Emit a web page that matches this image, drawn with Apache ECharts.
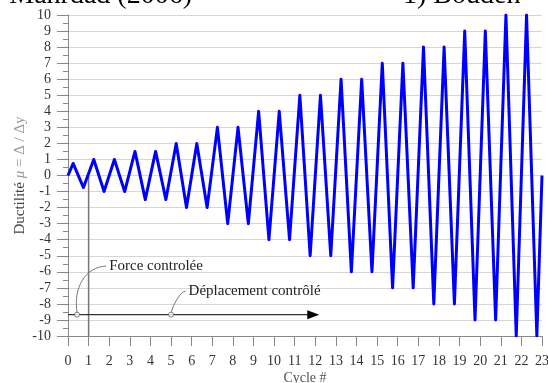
<!DOCTYPE html>
<html><head><meta charset="utf-8">
<script src="https://cdn.jsdelivr.net/npm/echarts@6/dist/echarts.min.js"></script>
<style>html,body{margin:0;padding:0;background:#fff;}#c{width:548px;height:383px;}</style>
</head><body><div id="c"></div>
<script>
// Cycle positions of each turning point
var cycleX = [0, 0.25, 0.75, 1.25, 1.75, 2.25, 2.75, 3.25, 3.75, 4.25, 4.75, 5.25, 5.75, 6.25, 6.75,
  7.25, 7.75, 8.25, 8.75, 9.25, 9.75, 10.25, 10.75, 11.25, 11.75, 12.25, 12.75, 13.25, 13.75,
  14.25, 14.75, 15.25, 15.75, 16.25, 16.75, 17.25, 17.75, 18.25, 18.75, 19.25, 19.75, 20.25, 20.75,
  21.25, 21.75, 22.25, 22.75, 23];
// Ductility at each turning point
var ductility = [0, 0.75, -0.75, 1, -1, 1, -1, 1.5, -1.5, 1.5, -1.5, 2, -2, 2, -2,
  3, -3, 3, -3, 4, -4, 4, -4, 5, -5, 5, -5, 6, -6,
  6, -6, 7, -7, 7, -7, 8, -8, 8, -8, 9, -9, 9, -9,
  10, -10, 10, -10, 0];
var xTicks = [0,1,2,3,4,5,6,7,8,9,10,11,12,13,14,15,16,17,18,19,20,21,22,23];
var yTicks = [-10,-9,-8,-7,-6,-5,-4,-3,-2,-1,0,1,2,3,4,5,6,7,8,9,10];
// Annotation values
var forceLimitX = 1;          // end of force-controlled phase
var phaseArrowY = -8.67;
var phaseArrowEnd = 11.9;
var forceLabel = 'Force controlée';
var forceCircle = [0.44, -8.67];
var forceTextPos = [2.0, -5.64];
var dispLabel = 'Déplacement contrôlé';
var dispCircle = [5.0, -8.67];
var dispTextPos = [5.85, -7.2];

var serif = '"Liberation Serif", "DejaVu Serif", serif';
var chart = echarts.init(document.getElementById('c'));
var pts = cycleX.map(function (x, i) { return [x, ductility[i]]; });

chart.setOption({
  animation: false,
  grid: { left: 68, right: 6, top: 15, bottom: 47, containLabel: false, outerBoundsMode: 'none' },
  xAxis: {
    type: 'value', min: 0, max: 23, interval: 1,
    name: 'Cycle #', nameLocation: 'middle', nameGap: 35, nameMoveOverlap: false,
    nameTextStyle: { fontFamily: serif, fontSize: 14, color: '#555' },
    axisLine: { onZero: false, lineStyle: { color: '#888', width: 1 } },
    axisTick: { length: 10, lineStyle: { color: '#888' } },
    axisLabel: { fontFamily: serif, fontSize: 14, color: '#333', margin: 18,
      formatter: function (v) { return xTicks.indexOf(v) >= 0 ? String(v) : ''; } },
    splitLine: { show: false }
  },
  yAxis: {
    type: 'value', min: -10, max: 10, interval: 1,
    name: '{a|Ductilité }{b|μ}{c| = Δ / Δy}', nameLocation: 'middle', nameGap: 40,
    nameMoveOverlap: false,
    nameTextStyle: { fontFamily: serif, fontSize: 15,
      rich: {
        a: { fontFamily: serif, fontSize: 15, color: '#444' },
        b: { fontFamily: serif, fontSize: 15, color: '#999', fontStyle: 'italic' },
        c: { fontFamily: serif, fontSize: 15, color: '#999' }
      } },
    axisLine: { show: true, lineStyle: { color: '#888', width: 1 } },
    axisTick: { length: 11, lineStyle: { color: '#888' } },
    minorTick: { show: true, splitNumber: 2, length: 5, lineStyle: { color: '#888' } },
    axisLabel: { fontFamily: serif, fontSize: 14, color: '#333', margin: 17,
      formatter: function (v) { return yTicks.indexOf(v) >= 0 ? String(v) : ''; } },
    splitLine: { show: true, lineStyle: { color: '#d6d6d6', width: 1 } }
  },
  series: [
    {
      type: 'line', data: [[forceLimitX, 0], [forceLimitX, -10]], symbol: 'none',
      lineStyle: { color: '#777', width: 1.5 }, z: 1, silent: true
    },
    {
      type: 'line', data: [[0, phaseArrowY], [phaseArrowEnd, phaseArrowY]],
      showSymbol: false, symbol: 'none',
      lineStyle: { color: '#333', width: 1.2 }, z: 2, silent: true,
      markPoint: {
        symbol: 'triangle', symbolSize: [9, 12], symbolRotate: -90, symbolOffset: [0, 0],
        itemStyle: { color: '#000' }, label: { show: false },
        data: [{ coord: [phaseArrowEnd, phaseArrowY] }]
      }
    },
    {
      type: 'scatter', data: [forceCircle, dispCircle], symbol: 'circle', symbolSize: 5,
      itemStyle: { color: '#fff', borderColor: '#666', borderWidth: 1 }, z: 4, silent: true
    },
    {
      type: 'line', data: pts, symbol: 'none',
      lineStyle: { color: '#0000ff', width: 3, join: 'round' }, z: 3
    }
  ]
});

function px(p) { return chart.convertToPixel({ gridIndex: 0 }, p); }
var fc = px(forceCircle), ft = px(forceTextPos);
var dc = px(dispCircle), dt = px(dispTextPos);
chart.setOption({
  graphic: [
    { type: 'bezierCurve', shape: { x1: fc[0], y1: fc[1] - 2, x2: ft[0] - 3, y2: ft[1],
        cpx1: fc[0] - 4, cpy1: ft[1] + 22, cpx2: fc[0] + 8, cpy2: ft[1] + 1 },
      style: { stroke: '#777', lineWidth: 1, fill: null }, z: 10 },
    { type: 'text', x: ft[0], y: ft[1], style: { text: forceLabel, font: '15px ' + serif,
        fill: '#222', verticalAlign: 'middle', align: 'left' }, z: 10 },
    { type: 'bezierCurve', shape: { x1: dc[0], y1: dc[1] - 2, x2: dt[0] - 3, y2: dt[1],
        cpx1: dc[0] + 3, cpy1: dt[1] + 12, cpx2: dc[0] + 9, cpy2: dt[1] + 1 },
      style: { stroke: '#777', lineWidth: 1, fill: null }, z: 10 },
    { type: 'text', x: dt[0], y: dt[1], style: { text: dispLabel, font: '15px ' + serif,
        fill: '#222', verticalAlign: 'middle', align: 'left' }, z: 10 },
    { type: 'text', x: 192, y: 10, style: { text: 'Mahrdad (2006)', font: '28px ' + serif,
        fill: '#000', align: 'right', verticalAlign: 'bottom' }, z: 10 },
    { type: 'text', x: 403, y: 10, style: { text: '1) Boudeh', font: '28px ' + serif,
        fill: '#000', align: 'left', verticalAlign: 'bottom' }, z: 10 }
  ]
});
</script></body></html>
